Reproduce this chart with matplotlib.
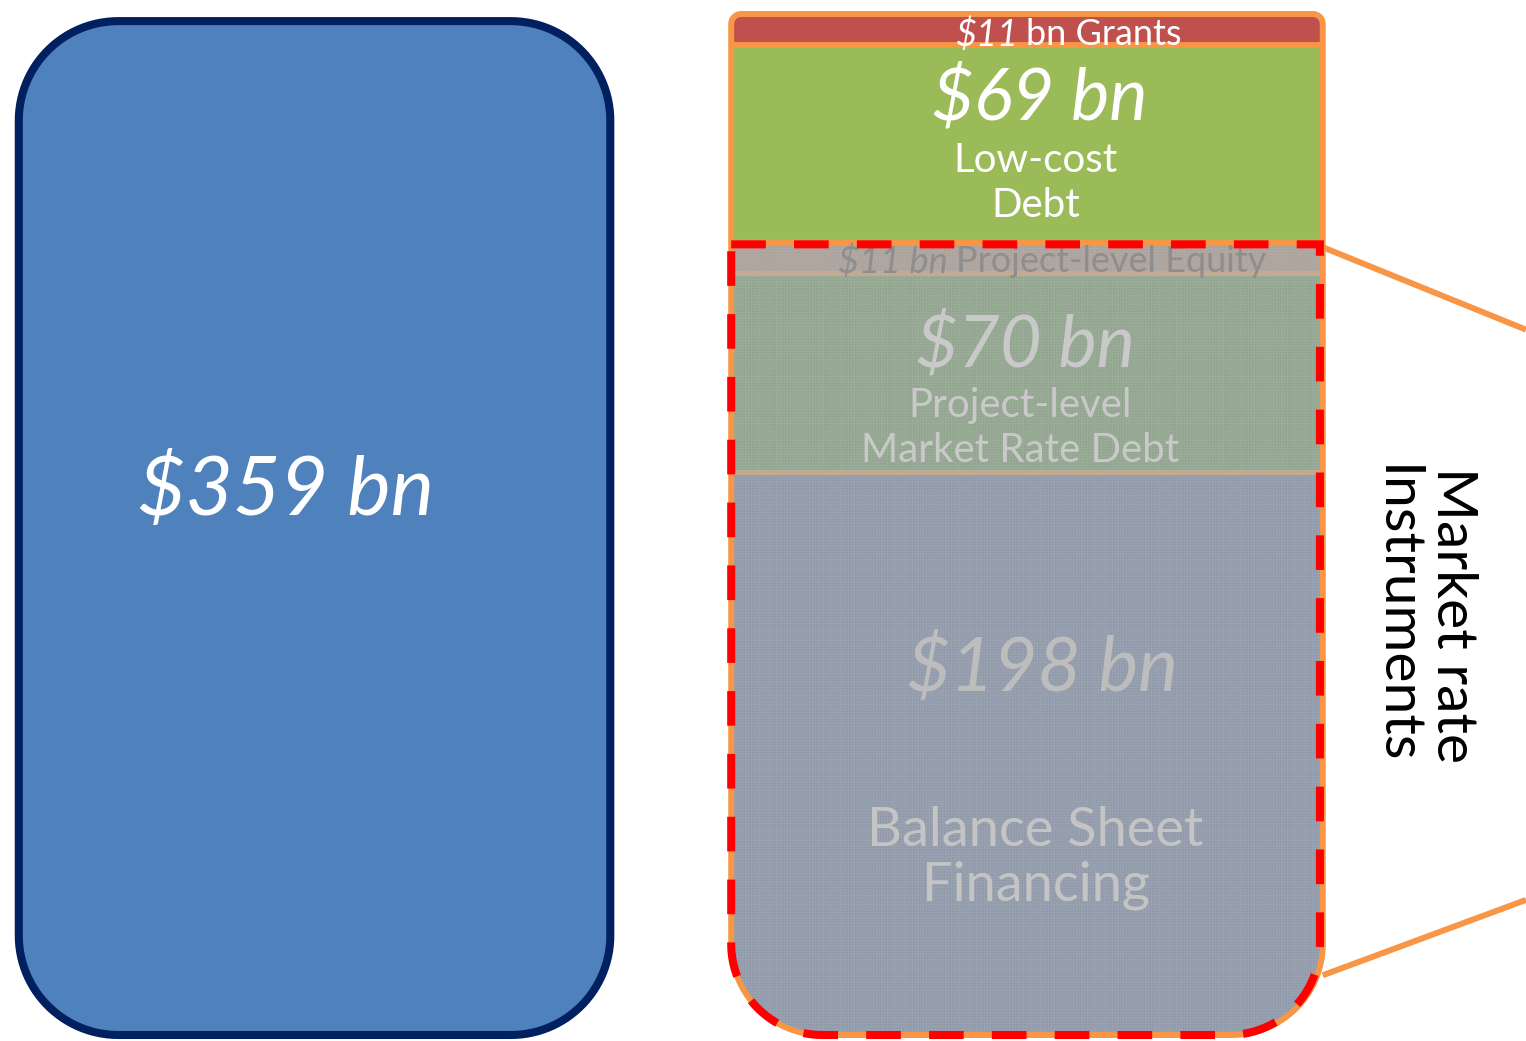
import numpy as np
import matplotlib
matplotlib.use("Agg")
import matplotlib.pyplot as plt
from matplotlib.path import Path
from matplotlib.patches import PathPatch

# datos (bn USD), de abajo hacia arriba
total = 359
segments = ["Balance Sheet Financing", "Project-level Market Rate Debt",
            "Project-level Equity", "Low-cost Debt", "Grants"]
values = [198, 70, 11, 69, 11]
colors = ["#8E99AC", "#8FA68C", "#ADA29A", "#9BBB59", "#C0504D"]
market_rate = [True, True, True, False, False]

plt.rcParams["font.family"] = ["Lato", "DejaVu Sans"]
plt.rcParams["hatch.linewidth"] = 0.6


def rounded_path(x0, y0, x1, y1, r_top, r_bot):
    # rectangulo con esquinas redondeadas (radio distinto arriba y abajo)
    def arc(cx, cy, r, a0, a1):
        t = np.radians(np.linspace(a0, a1, 30))
        return np.column_stack([cx + r * np.cos(t), cy + r * np.sin(t)])
    verts = np.vstack([
        arc(x0 + r_top, y1 - r_top, r_top, 180, 90),
        arc(x1 - r_top, y1 - r_top, r_top, 90, 0),
        arc(x1 - r_bot, y0 + r_bot, r_bot, 0, -90),
        arc(x0 + r_bot, y0 + r_bot, r_bot, -90, -180),
    ])
    verts = np.vstack([verts, verts[:1]])
    codes = [Path.MOVETO] + [Path.LINETO] * (len(verts) - 2) + [Path.CLOSEPOLY]
    return Path(verts, codes)


fig = plt.figure(figsize=(15.26, 10.41), dpi=100)
ax = fig.add_axes([0, 0, 1, 1])
px = 1021 / total  # pixeles por bn
ax.set_xlim(0, 1526 / px)
ax.set_ylim(-6 / px, total + 14 / px)
ax.set_aspect("equal")
ax.axis("off")

width = 208
left_x = 110.6
right_x = 361.1

# caja izquierda: total
bar_left = ax.bar(left_x, total - 2.5, width=width, color="#4F81BD", zorder=1)
left_shape = PathPatch(rounded_path(left_x - width / 2, 0, left_x + width / 2, total - 2.5, 35, 35),
                       facecolor="none", edgecolor="#002060", lw=5.8, zorder=3)
ax.add_patch(left_shape)
for b in bar_left:
    b.set_clip_path(left_shape)
ax.text(left_x - 10, total / 2 + 12, "$359 bn", color="white", fontsize=59,
        style="italic", ha="center", va="center", zorder=4)

# columna derecha apilada
right_shape = PathPatch(rounded_path(right_x - width / 2, 0, right_x + width / 2, total, 3.5, 32),
                        facecolor="none", edgecolor="#F79646", lw=4.3, zorder=5)
ax.add_patch(right_shape)
bottoms = np.concatenate([[0], np.cumsum(values)[:-1]])
for v, b0, c, mr in zip(values, bottoms, colors, market_rate):
    edge = "#C4A88E" if mr else "#F79646"
    bar = ax.bar(right_x, v, bottom=b0, width=width, color=c, edgecolor=edge,
                 lw=3.6 if mr else 4.3, zorder=1 if mr else 2)
    for p in bar:
        p.set_clip_path(right_shape)
    if mr:
        # textura punteada encima de los instrumentos de mercado
        tex = ax.bar(right_x, v, bottom=b0, width=width, color="none", edgecolor="#B8B8B8",
                     hatch="++++++", lw=0, alpha=0.35, zorder=1.5)
        for p in tex:
            p.set_clip_path(right_shape)

centers = bottoms + np.array(values) / 2

# textos de cada segmento
ax.text(right_x - 3, centers[4] - 1.8, "$11", color="white", fontsize=26, style="italic",
        ha="right", va="center", zorder=6)
ax.text(right_x - 0.5, centers[4] - 1.8, "bn Grants", color="white", fontsize=26,
        ha="left", va="center", zorder=6)
ax.text(right_x + 4.5, centers[3] + 16, "$69 bn", color="white", fontsize=52,
        style="italic", ha="center", va="center", zorder=6)
ax.text(right_x + 3, centers[3] - 14, "Low-cost\nDebt", color="white", fontsize=29,
        ha="center", va="center", linespacing=1.25, zorder=6)

ax.text(right_x - 28, centers[2] - 1.5, "$11 bn", color="#8E8E8E", fontsize=26, style="italic",
        ha="right", va="center", zorder=6)
ax.text(right_x - 25, centers[2] - 1.5, "Project-level Equity", color="#8E8E8E", fontsize=26,
        ha="left", va="center", zorder=6)

ax.text(right_x - 0.7, centers[1] + 9.6, "$70 bn", color="#C9C9C9", fontsize=52,
        style="italic", ha="center", va="center", zorder=6)
ax.text(right_x - 2.4, centers[1] - 19.6, "Project-level\nMarket Rate Debt", color="#C9C9C9",
        fontsize=29, ha="center", va="center", linespacing=1.25, zorder=6)

ax.text(right_x + 5.3, centers[0] + 30, "$198 bn", color="#BDBDBD", fontsize=54,
        style="italic", ha="center", va="center", zorder=6)
ax.text(right_x + 3, centers[0] - 36.8, "Balance Sheet\nFinancing", color="#C4C4C4",
        fontsize=39, ha="center", va="center", linespacing=1.15, zorder=6)

# contorno rojo de instrumentos a tasa de mercado
market_top = sum(v for v, mr in zip(values, market_rate) if mr)
red = PathPatch(rounded_path(right_x - width / 2, 0, right_x + width / 2 - 1, market_top - 1, 0, 32),
                facecolor="none", edgecolor="#FF0000", lw=5.8, linestyle=(0, (4.3, 3.5)), zorder=7)
ax.add_patch(red)

# lineas de llamada
x_edge = right_x + width / 2
ax.plot([x_edge, 1526 / px], [market_top - 2, 248], color="#F79646", lw=4.3, zorder=4,
        solid_capstyle="butt")
ax.plot([x_edge, 1526 / px], [21, 47.5], color="#F79646", lw=4.3, zorder=4,
        solid_capstyle="butt")

ax.text(500.5, 147.7, "Market rate\nInstruments", color="black", fontsize=41,
        rotation=-90, ha="center", va="center", multialignment="center", linespacing=1.15)

fig.savefig("out.png", dpi=100)
